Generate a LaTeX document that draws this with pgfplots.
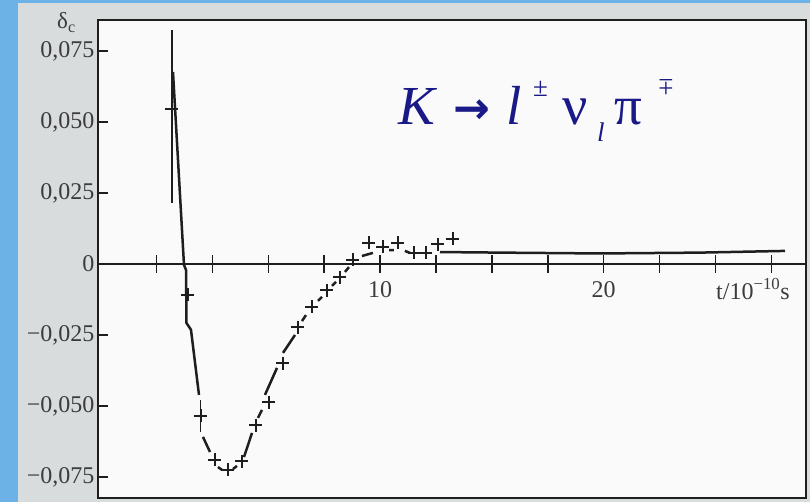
\documentclass[border=0pt]{standalone}
\usepackage{fontspec}
\setmainfont{Liberation Serif}
\newfontfamily\arrowfont{DejaVu Sans}
\usepackage{pgfplots}
\pgfplotsset{compat=1.18}

\definecolor{slideblue}{RGB}{108,178,230}
\definecolor{paper}{RGB}{216,220,221}
\definecolor{ink}{RGB}{30,30,30}
\definecolor{printgrey}{RGB}{60,60,60}
\definecolor{navy}{RGB}{25,25,135}

\newcommand{\ticksize}{\fontsize{24}{24}\selectfont}

\begin{document}
\begin{tikzpicture}
\path[use as bounding box] (0pt,0pt) rectangle (810pt,-502pt);
% slide background and the scanned page
\fill[slideblue] (0pt,0pt) rectangle (810pt,-502pt);
\fill[paper] (18pt,-3pt) rectangle (810pt,-502pt);
\fill[white!98!black] (98pt,-20pt) rectangle (806pt,-498pt);

% time axis through delta = 0, with crossing ticks
\begin{axis}[
  at={(98pt,-498pt)}, anchor=south west,
  scale only axis, width=708pt, height=478pt,
  xmin=-2.616, xmax=29.05, ymin=-0.0824, ymax=0.0859,
  axis x line=middle, axis y line=none,
  x axis line style={-, ink, line width=1.5pt},
  xtick={0,2.5,5,7.5,10,12.5,15,17.5,20,22.5,25,27.5},
  xticklabels={,,,,10,,,,20,,,},
  scaled x ticks=false, scaled y ticks=false,
  tick align=center, major tick length=18pt,
  xtick style={ink, line width=1.5pt},
  xticklabel style={font=\ticksize, text=printgrey, yshift=-5pt},
]
\addplot[draw=none] coordinates {(0,0)};
\end{axis}

% frame, asymmetry scale and data
\begin{axis}[
  at={(98pt,-498pt)}, anchor=south west,
  scale only axis, width=708pt, height=478pt,
  xmin=-2.616, xmax=29.05, ymin=-0.0824, ymax=0.0859,
  axis line style={ink, line width=1.8pt},
  xtick=\empty,
  scaled x ticks=false, scaled y ticks=false,
  ytick={-0.075,-0.05,-0.025,0,0.025,0.05,0.075},
  yticklabels={{−0,075},{−0,050},{−0,025},0,{0,025},{0,050},{0,075}},
  ytick pos=left, tick align=inside, major tick length=10pt,
  ytick style={ink, line width=1.5pt},
  yticklabel style={font=\ticksize, text=printgrey},
  unbounded coords=jump,
]
% fitted curve, broken around the measured points
\addplot[ink, line width=2.5pt, line join=round] coordinates {
  (0.738,0.0676) (1.230,-0.00035) (1.320,-0.0021) (1.342,-0.0208) (1.543,-0.0232) (1.901,-0.0461)
  (2.0,nan)
  (2.080,-0.0609) (2.393,-0.0662)
  (2.5,nan)
  (2.750,-0.0715) (2.929,-0.0725)
  (3.0,nan)
  (3.421,-0.0722) (3.600,-0.0711)
  (3.7,nan)
  (3.913,-0.0680) (4.271,-0.0595)
  (4.4,nan)
  (4.539,-0.0542) (4.718,-0.0514)
  (4.8,nan)
  (4.852,-0.0461) (5.389,-0.0366)
  (5.5,nan)
  (5.658,-0.0313) (6.194,-0.0250)
  (6.3,nan)
  (6.507,-0.0201) (6.686,-0.0180)
  (6.8,nan)
  (7.223,-0.0130) (7.402,-0.0116)
  (7.5,nan)
  (7.849,-0.0077) (8.028,-0.0063)
  (8.2,nan)
  (8.43,-0.0028) (8.609,-0.0011)
  (8.8,nan)
  (9.19,0.0028) (9.68,0.0039)
  (10.0,nan)
  (10.40,0.0049) (10.62,0.0049)
  (10.8,nan)
  (11.11,0.0046) (11.34,0.0039)
  (12.0,nan)
  (12.68,0.0042) (15.36,0.0040) (19.83,0.0037) (24.31,0.0040) (28.11,0.0046)
};
% measured charge asymmetry
\addplot[ink, only marks, mark=+, mark size=6.5pt, line width=1.9pt,
  error bars/.cd, y dir=both, y explicit,
  error bar style={line width=1.5pt}, error mark=none]
  coordinates {
  (0.693,0.0546) += (0,0.0278) -= (0,0.0331)
  (1.409,-0.0109)
  (1.977,-0.0535) +- (0,0.0056)
  (2.616,-0.0690)
  (3.198,-0.0725)
  (3.824,-0.0694)
  (4.450,-0.0567)
  (5.031,-0.0486)
  (5.658,-0.0349)
  (6.328,-0.0222)
  (6.954,-0.0151)
  (7.625,-0.0092)
  (8.206,-0.0046)
  (8.788,0.0014)
  (9.503,0.0074)
  (10.13,0.0060)
  (10.80,0.0074)
  (11.52,0.0039)
  (12.05,0.0039)
  (12.59,0.0070)
  (13.26,0.0088)
};
\end{axis}

% axis names
\node[anchor=base west, text=printgrey, font=\fontsize{23}{23}\selectfont, inner sep=0pt]
  at (57pt,-29pt) {δ\textsubscript{c}};
\node[anchor=base west, text=printgrey, font=\ticksize, inner sep=0pt]
  at (716pt,-299pt) {t/10\textsuperscript{−10}s};

% decay channel
\begin{scope}[navy, every node/.style={inner sep=0pt, anchor=base west}]
\node[font=\fontsize{55}{55}\selectfont\itshape] at (398pt,-125pt) {K};
\node[font=\fontsize{44}{44}\selectfont\arrowfont\bfseries] at (453pt,-124pt) {→};
\node[font=\fontsize{55}{55}\selectfont\itshape] at (506pt,-125pt) {l};
\node[font=\fontsize{27}{27}\selectfont] at (533pt,-97pt) {±};
\node[font=\fontsize{56}{56}\selectfont] at (562pt,-125pt) {ν};
\node[font=\fontsize{27}{27}\selectfont\itshape] at (597pt,-142pt) {l};
\node[font=\fontsize{55}{55}\selectfont] at (614pt,-125pt) {π};
\node[font=\fontsize{27}{27}\selectfont, rotate=180, anchor=center] at (666pt,-87pt) {±};
\end{scope}
\end{tikzpicture}
\end{document}
